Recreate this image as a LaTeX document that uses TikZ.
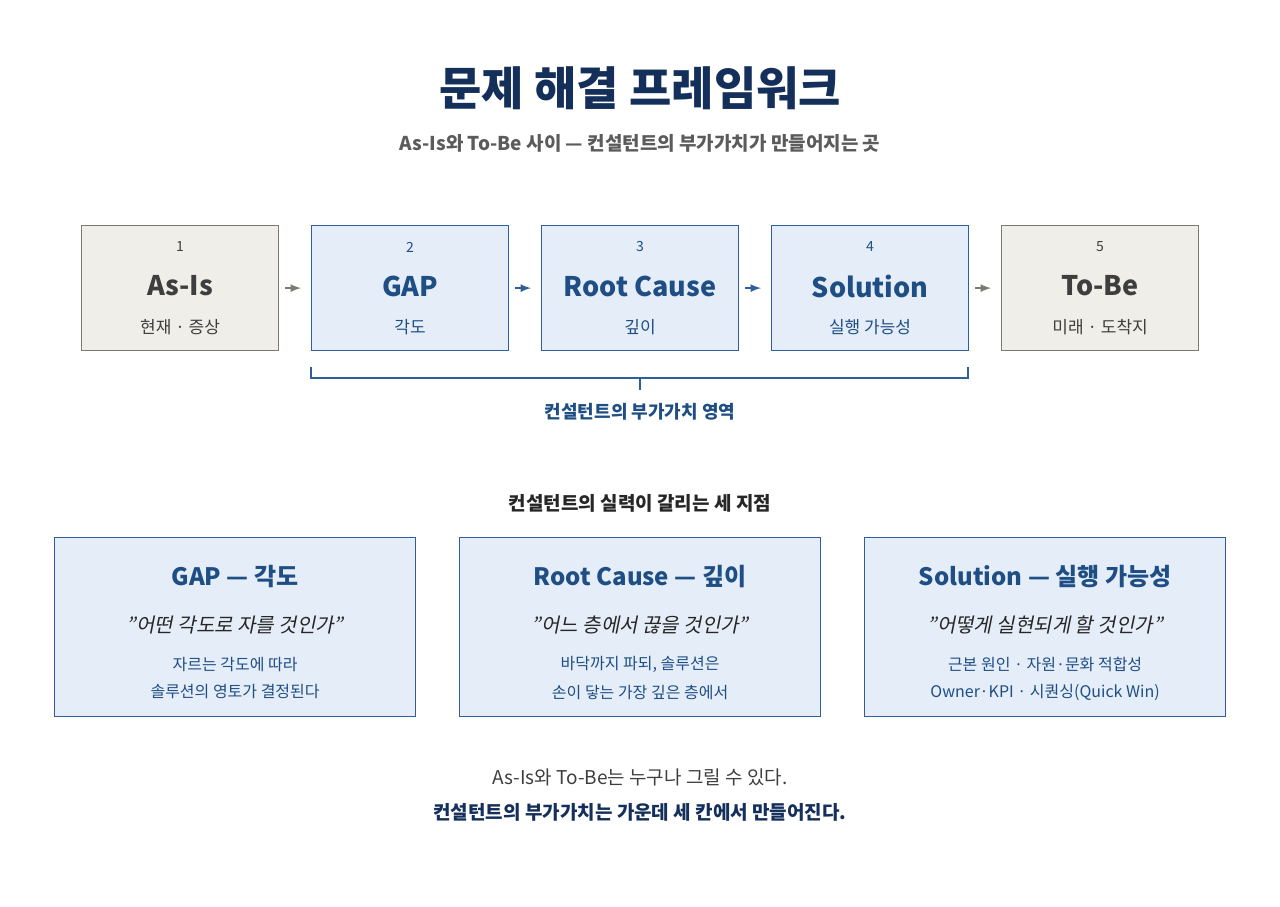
\documentclass[tikz,border=0pt]{standalone}
\usepackage{fontspec}
\setmainfont{Noto Sans CJK KR}[AutoFakeSlant=0.2]
\newfontfamily\cjkbold{Noto Sans CJK KR}[FakeBold=0]
\definecolor{navy}{HTML}{14305A}
\definecolor{bluetext}{HTML}{1F4E85}
\definecolor{blueline}{HTML}{2F5F9A}
\definecolor{bluefill}{HTML}{E5EEF8}
\definecolor{grayline}{HTML}{7B7A72}
\definecolor{grayfill}{HTML}{EFEEE8}
\definecolor{graytext}{HTML}{3E3E3E}
\tikzset{
	stepblue/.style={draw=blueline, fill=bluefill, line width=0.6pt, minimum width=98.5pt, minimum height=62.5pt, anchor=north west},
	stepgray/.style={draw=grayline, fill=grayfill, line width=0.6pt, minimum width=98.5pt, minimum height=62.5pt, anchor=north west},
	pointbox/.style={draw=blueline, fill=bluefill, line width=0.6pt, minimum width=180.5pt, minimum height=89.5pt, anchor=north west},
	flow/.style={-latex, line width=0.8pt},
}
\begin{document}
\begin{tikzpicture}[x=0.5pt, y=-0.5pt]
	\useasboundingbox (0,0) rectangle (1280,906);
	% title
	\node (title) at (640,88) {\fontsize{23}{26}\selectfont\bfseries\color{navy}문제 해결 프레임워크};
	\node (subtitle) at (640,143) {\fontsize{9.5}{11}\selectfont\bfseries\color{graytext!85}As-Is와 To-Be 사이 — 컨설턴트의 부가가치가 만들어지는 곳};

	% five steps
	\node[stepgray](asis) at (81,225){};
	\node[stepblue](gap) at (311,225){};
	\node[stepblue](root) at (541,225){};
	\node[stepblue](sol) at (771,225){};
	\node[stepgray](tobe) at (1001,225){};

	\foreach \n/\num/\lab/\sub/\col in {asis/1/As-Is/현재 · 증상/graytext, gap/2/GAP/각도/bluetext, root/3/Root Cause/깊이/bluetext, sol/4/Solution/실행 가능성/bluetext, tobe/5/To-Be/미래 · 도착지/graytext}{
		\node[font=\fontsize{7}{8}\selectfont, text=\col] (\n-num) at ([yshift=-11pt]\n.north) {\num};
		\node[font=\fontsize{13.5}{15}\selectfont\bfseries, text=\col] (\n-lab) at ([yshift=-30.5pt]\n.north) {\lab};
		\node[font=\fontsize{8.5}{10}\selectfont, text=\col] (\n-sub) at ([yshift=-51pt]\n.north) {\sub};
	}

	\draw[flow, grayline] ([xshift=3pt]asis.east) -- ([xshift=-5pt]gap.west);
	\draw[flow, blueline] ([xshift=3pt]gap.east) -- ([xshift=-5pt]root.west);
	\draw[flow, blueline] ([xshift=3pt]root.east) -- ([xshift=-5pt]sol.west);
	\draw[flow, grayline] ([xshift=3pt]sol.east) -- ([xshift=-5pt]tobe.west);

	% bracket
	\coordinate (bl) at (311,367);
	\coordinate (br) at (968,367);
	\coordinate (bm) at (640,378);
	\draw[blueline, line width=0.7pt] (bl) |- (br |- bm) -- (br);
	\draw[blueline, line width=0.7pt] (bm) -- ++(0,12) coordinate (bt);
	\node[font=\fontsize{9}{11}\selectfont\bfseries, text=bluetext] (valuelab) at (640,412) {컨설턴트의 부가가치 영역};

	% three points
	\node[font=\fontsize{9.5}{11}\selectfont\bfseries, text=black!85] (pointstitle) at (640,503) {컨설턴트의 실력이 갈리는 세 지점};
	\node[pointbox](pgap) at (54,537){};
	\node[pointbox](proot) at (459,537){};
	\node[pointbox](psol) at (864,537){};

	\foreach \n/\head/\quote/\la/\lb in {pgap/GAP — 각도/"어떤 각도로 자를 것인가"/자르는 각도에 따라/솔루션의 영토가 결정된다, proot/Root Cause — 깊이/"어느 층에서 끊을 것인가"/{바닥까지 파되, 솔루션은}/손이 닿는 가장 깊은 층에서, psol/Solution — 실행 가능성/"어떻게 실현되게 할 것인가"/근본 원인 · 자원·문화 적합성/Owner·KPI · 시퀀싱(Quick Win)}{
		\node[font=\fontsize{12}{14}\selectfont\bfseries, text=bluetext] (\n-head) at ([yshift=-20pt]\n.north) {\head};
		\node[font=\fontsize{10}{12}\selectfont\itshape, text=black!85] (\n-quote) at ([yshift=-44pt]\n.north) {\quote};
		\node[font=\fontsize{8}{10}\selectfont, text=bluetext] (\n-la) at ([yshift=-63.5pt]\n.north) {\la};
		\node[font=\fontsize{8}{10}\selectfont, text=bluetext] (\n-lb) at ([yshift=-77.5pt]\n.north) {\lb};
	}

	% closing
	\node[font=\fontsize{9.5}{11}\selectfont, text=graytext] (closea) at (640,777) {As-Is와 To-Be는 누구나 그릴 수 있다.};
	\node[font=\fontsize{9.5}{11}\selectfont\bfseries, text=navy] (closeb) at (640,812) {컨설턴트의 부가가치는 가운데 세 칸에서 만들어진다.};
\end{tikzpicture}
\end{document}
